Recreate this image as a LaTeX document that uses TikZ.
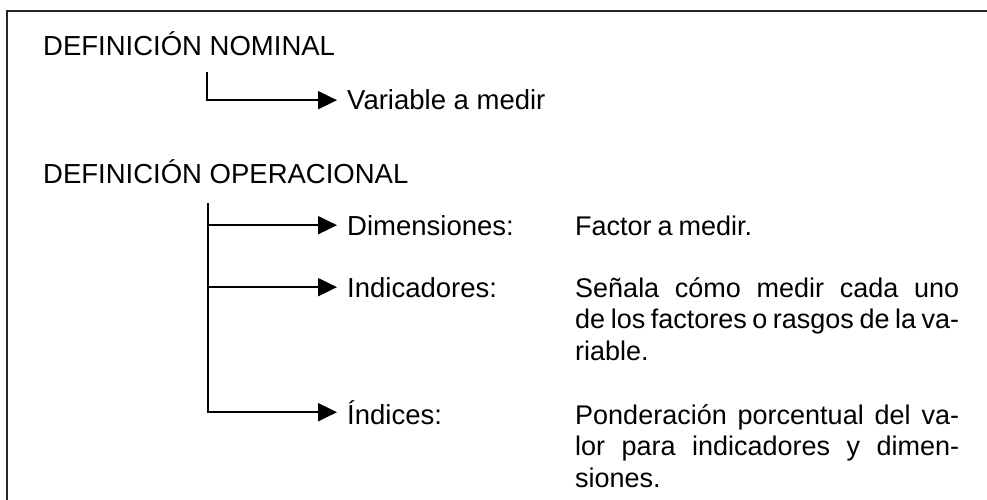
\documentclass[tikz,border=0pt]{standalone}
\usepackage{fontspec}
\setmainfont{Liberation Sans}
\usetikzlibrary{calc, positioning, arrows.meta}
\newcommand{\descfont}{\fontsize{27}{31.5}\selectfont\spaceskip=0.22em plus 1em minus 0.05em\relax}
\tikzset{
    title/.style={anchor=base west, inner sep=0pt, font=\fontsize{27.5}{31}\selectfont},
    item/.style={anchor=base west, inner sep=0pt, font=\fontsize{27.5}{31}\selectfont},
    desc/.style={anchor=base west, inner sep=0pt, text width=384pt, align=justify, font=\descfont},
    arrow/.style={-{Triangle[length=19pt, width=18pt]}, line width=2pt, shorten >=10pt},
    frame/.style={line width=2pt, draw=black!85}
}
\begin{document}
\begin{tikzpicture}[x=1pt, y=-1pt]
        \useasboundingbox (0,0) rectangle (987,500);
        % Frame
        \draw[frame] (7,500) -- (7,11) -- (987,11);

        % Nodes
        \node[title] (nomTitle) at (43,56) {DEFINICIÓN NOMINAL};
        \node[item] (variable) at (347,110) {Variable a medir};

        \node[title] (opTitle) at (43,183) {DEFINICIÓN OPERACIONAL};
        \node[item] (dim) at (347,235) {Dimensiones:};
        \node[item] (ind) at (347,297) {Indicadores:};
        \node[item] (idx) at (347,424) {Índices:};

        \node[desc] (dimDesc) at (575,235) {Factor a medir.};
        \node[desc] (indDesc) at (575,297) {Señala cómo medir cada uno\linebreak de los factores o rasgos de la va-\linebreak riable.};
        \node[desc] (idxDesc) at (575,424) {Ponderación porcentual del va-\linebreak lor para indicadores y dimen-\linebreak siones.};

        \coordinate (nomTop) at (207,72);
        \coordinate (opTop) at (208,203);

        % Edges
        \draw[arrow] (nomTop) |- (variable.west);
        \draw[arrow] (opTop) |- (idx.west);
        \draw[arrow] (opTop |- dim.west) -- (dim.west);
        \draw[arrow] (opTop |- ind.west) -- (ind.west);

    \end{tikzpicture}
\end{document}
